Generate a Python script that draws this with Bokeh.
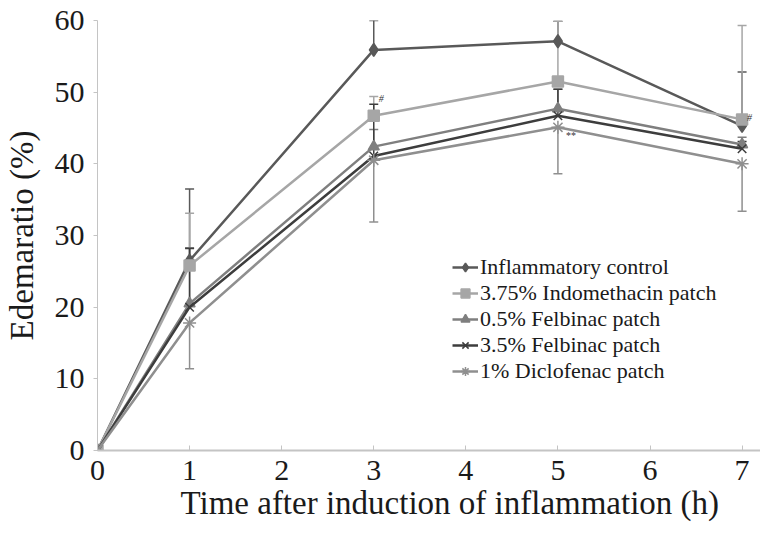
from bokeh.plotting import figure
from bokeh.models import (Range1d, FixedTicker, Legend, LegendItem, Whisker,
                          ColumnDataSource, TeeHead, Title)
from bokeh.core.properties import value
from bokeh.embed import file_html
from bokeh.resources import INLINE

# ---- data ----
time_h = [0, 1, 3, 5, 7]
control = [0, 26.5, 55.9, 57.1, 45.3]
control_err = [0, 10.0, 4.1, 2.8, 7.5]
indometh = [0, 25.8, 46.7, 51.5, 46.2]
indometh_err = [0, 7.3, 2.7, 8.4, 13.1]
felb05 = [0, 20.5, 42.4, 47.7, 42.7]
felb05_err = [0, 7.8, 2.4, 2.7, 1.0]
felb35 = [0, 20.0, 41.1, 46.7, 42.1]
felb35_err = [0, 8.2, 7.2, 3.7, 1.0]
diclo = [0, 17.8, 40.5, 45.1, 40.0]
diclo_err = [0, 6.4, 8.6, 6.5, 6.6]

series_names = ["Inflammatory control", "3.75% Indomethacin patch",
                "0.5% Felbinac patch", "3.5% Felbinac patch",
                "1% Diclofenac patch"]
x_ticks = [0, 1, 2, 3, 4, 5, 6, 7]
y_ticks = [0, 10, 20, 30, 40, 50, 60]
x_title = "Time after induction of inflammation (h)"
y_title = "Edemaratio (%)"

FONT = "'Liberation Serif'"

p = figure(width=760, height=534, output_backend="svg", toolbar_location=None,
           x_range=Range1d(0, 7.2), y_range=Range1d(0, 60),
           min_border_left=97, min_border_right=0, min_border_top=20,
           min_border_bottom=84)
p.outline_line_color = None
p.grid.visible = False

# axes
p.xaxis.ticker = FixedTicker(ticks=x_ticks)
p.yaxis.ticker = FixedTicker(ticks=y_ticks)
p.yaxis.axis_label = y_title
for ax in (p.xaxis[0], p.yaxis[0]):
    ax.axis_line_color = "#c4c4c4"
    ax.major_tick_line_color = "#c4c4c4"
    ax.minor_tick_line_color = None
    ax.major_label_text_font = FONT
    ax.major_label_text_font_size = "30px"
    ax.major_label_text_color = "#1a1a1a"
    ax.axis_label_text_font = FONT
    ax.axis_label_text_font_size = "33px"
    ax.axis_label_text_font_style = "normal"
    ax.axis_label_text_color = "#1a1a1a"
p.xaxis.axis_line_width = 2
p.xaxis.major_tick_in = 5
p.xaxis.major_tick_out = 0
p.xaxis.major_label_standoff = 10
p.yaxis.major_tick_in = 0
p.yaxis.major_tick_out = 4
p.yaxis.major_label_standoff = 9
p.yaxis.axis_label_standoff = 12

# x-axis title as a title below the axis, placed like the reference
p.add_layout(Title(text=x_title, align="left", offset=83, standoff=0,
                   text_font=FONT, text_font_size="33px",
                   text_font_style="normal", text_color="#1a1a1a"), "below")

data_sets = [
    (control, control_err, "#595959", "diamond", 13, "up"),
    (indometh, indometh_err, "#a6a6a6", "square", 11, "up"),
    (felb05, felb05_err, "#7f7f7f", "triangle", 11, "up"),
    (felb35, felb35_err, "#3d3d3d", "x", 12, "up"),
    (diclo, diclo_err, "#8f8f8f", "asterisk", 13, "down"),
]

items = []
for (vals, errs, col, mk, sz, direction), name in zip(data_sets, series_names):
    xs = time_h[1:]
    ys = vals[1:]
    es = errs[1:]
    if direction == "up":
        upper = [y + e for y, e in zip(ys, es)]
        lower = ys
    else:
        upper = ys
        lower = [y - e for y, e in zip(ys, es)]
    src = ColumnDataSource(dict(x=xs, upper=upper, lower=lower))
    w = Whisker(base="x", upper="upper", lower="lower", source=src,
                line_color=col, line_width=1.5,
                upper_head=TeeHead(size=9, line_color=col, line_width=1.5) if direction == "up" else None,
                lower_head=TeeHead(size=9, line_color=col, line_width=1.5) if direction == "down" else None)
    p.add_layout(w)

for (vals, errs, col, mk, sz, direction), name in zip(data_sets, series_names):
    ln = p.line(time_h, vals, line_color=col, line_width=2.5)
    sc = p.scatter(time_h, vals, marker=mk, size=sz, fill_color=col,
                   line_color=col, line_width=1.5)
    items.append(LegendItem(label=name, renderers=[ln, sc]))

# significance marks
p.text(x=[time_h[2]], y=[indometh[2] + indometh_err[2]], text=["#"],
       text_font=value(FONT), text_font_size="10px", text_color="#333333",
       text_font_style="italic", x_offset=5, y_offset=2, text_baseline="middle")
p.text(x=[time_h[3]], y=[diclo[3]], text=["**"],
       text_font=value(FONT), text_font_size="10px", text_color="#333333",
       x_offset=8, y_offset=8, text_baseline="middle")
p.text(x=[time_h[4]], y=[indometh[4]], text=["#"],
       text_font=value(FONT), text_font_size="10px", text_color="#333333",
       text_font_style="italic", x_offset=5, y_offset=-2, text_baseline="middle")

legend = Legend(items=items, location=(355, 66), orientation="vertical",
                label_text_font="Liberation Serif", label_text_font_size="22px",
                label_text_font_style="normal", label_text_color="#1a1a1a",
                glyph_width=26, glyph_height=22, label_height=22,
                label_standoff=2, spacing=0, padding=0, margin=0,
                border_line_color=None, background_fill_alpha=0)
p.add_layout(legend)

open("out.html", "w").write(file_html(p, INLINE))
